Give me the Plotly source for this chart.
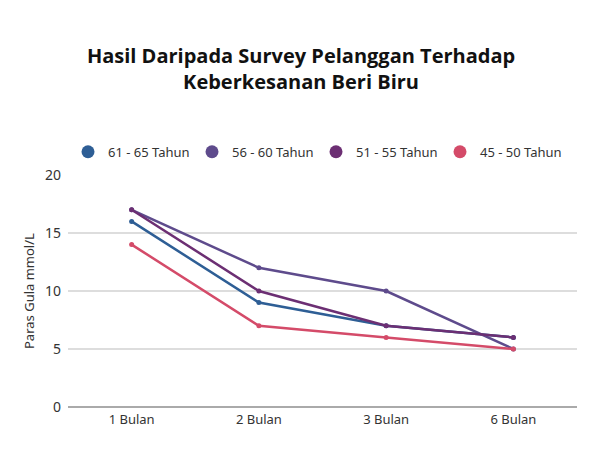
import plotly.graph_objects as go

categories = ["1 Bulan", "2 Bulan", "3 Bulan", "6 Bulan"]
series_names = ["61 - 65 Tahun", "56 - 60 Tahun", "51 - 55 Tahun", "45 - 50 Tahun"]
s61_65 = [16, 9, 7, 6]
s56_60 = [17, 12, 10, 5]
s51_55 = [17, 10, 7, 6]
s45_50 = [14, 7, 6, 5]
y_ticks = [0, 5, 10, 15, 20]

colors = ["#2E5E95", "#5E4B8C", "#6C2F73", "#D44B69"]
series_values = [s61_65, s56_60, s51_55, s45_50]

fig = go.Figure()
for name, vals, col in zip(series_names, series_values, colors):
    fig.add_trace(go.Scatter(
        x=categories, y=vals, mode="lines+markers", name=name,
        line=dict(color=col, width=2.5), marker=dict(color=col, size=5),
        showlegend=False, hoverinfo="x+y+name",
    ))
for name, col in zip(series_names, colors):
    fig.add_trace(go.Scatter(
        x=[None], y=[None], mode="markers", name=name,
        marker=dict(color=col, size=13), showlegend=True,
    ))

W, H = 592, 448
L, R, T, B = 60, 23, 167, 49
PW = W - L - R
fig.update_layout(
    width=W, height=H,
    paper_bgcolor="white", plot_bgcolor="white",
    margin=dict(l=L, r=R, t=T, b=B, autoexpand=False),
    title=dict(
        text="<b>Hasil Daripada Survey Pelanggan Terhadap<br>Keberkesanan Beri Biru</b>",
        x=0.495, xanchor="center", y=1 - 55 / H, yanchor="middle",
        font=dict(family="Open Sans", size=20, color="#111111"),
    ),
    legend=dict(
        orientation="h", xref="container", x=L / W, xanchor="left",
        y=1.1, yanchor="middle",
        font=dict(family="Noto Sans", size=13, color="#333333"),
        entrywidth=79, entrywidthmode="pixels", itemsizing="trace",
        bgcolor="rgba(0,0,0,0)",
    ),
    font=dict(family="Noto Sans", size=13, color="#333333"),
    xaxis=dict(
        type="category", range=[-0.5, 3.5], showgrid=False,
        showline=False, ticks="", tickfont=dict(size=13, color="#333333"),
        zeroline=False, ticklabelstandoff=3,
    ),
    yaxis=dict(
        range=[0, 20], tickvals=y_ticks, showgrid=True, gridcolor="#DDDDDD",
        gridwidth=1.5, zeroline=True, zerolinecolor="#AAAAAA", zerolinewidth=1.5,
        showline=False, ticks="", tickfont=dict(size=14, color="#333333"),
        ticklabelstandoff=6,
    ),
    annotations=[dict(
        text="Paras Gula mmol/L", textangle=-90,
        xref="paper", x=(21 - L) / PW, xanchor="center",
        yref="paper", y=0.5, yanchor="middle",
        showarrow=False, font=dict(family="Noto Sans", size=13, color="#333333"),
    )],
)

fig.write_html("out.html")
